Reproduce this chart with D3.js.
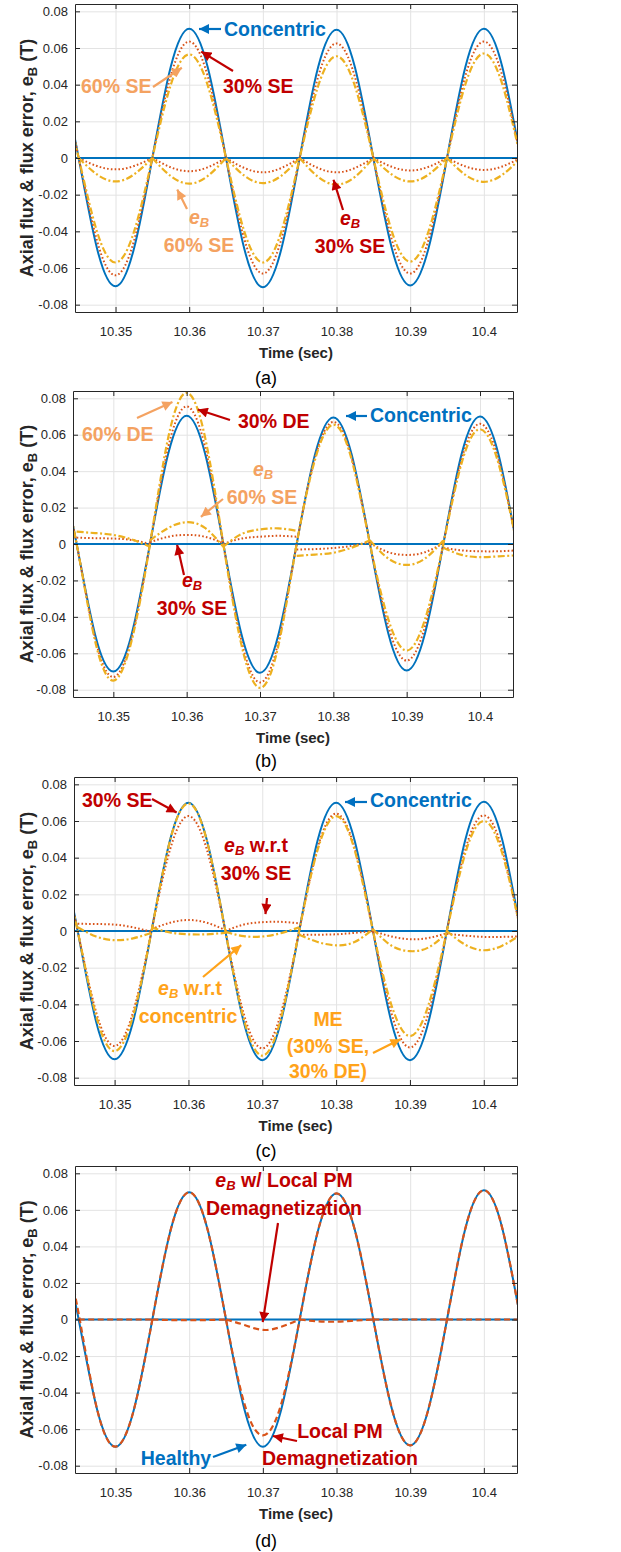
<!DOCTYPE html>
<html>
<head>
<meta charset="utf-8">
<script src="https://cdn.jsdelivr.net/npm/d3@7"></script>
<style>
  body { margin: 0; background: #fff; }
  text { font-family: "Liberation Sans", Arial, sans-serif; }
</style>
</head>
<body>
<div id="content"></div>
<script>
// Time grid (sec), sampled every 2.5 ms.
var time = [10.3425, 10.345, 10.3475, 10.35, 10.3525, 10.355, 10.3575, 10.36, 10.3625,
            10.365, 10.3675, 10.37, 10.3725, 10.375, 10.3775, 10.38, 10.3825, 10.385,
            10.3875, 10.39, 10.3925, 10.395, 10.3975, 10.40, 10.4025, 10.405, 10.4075];
var xTicks = [10.35, 10.36, 10.37, 10.38, 10.39, 10.4];
var xTickLabels = ['10.35', '10.36', '10.37', '10.38', '10.39', '10.4'];
var yTicks = [-0.08, -0.06, -0.04, -0.02, 0, 0.02, 0.04, 0.06, 0.08];
var yTickLabels = ['-0.08', '-0.06', '-0.04', '-0.02', '0', '0.02', '0.04', '0.06', '0.08'];

// Flux error of the reference machine (flat zero line).
var ebConc = [0, 0];

// (a) static eccentricity.
var concA = [0.0495, 0, -0.0495, -0.070, -0.0495, 0, 0.0498, 0.0705, 0.0498, 0, -0.0498, -0.0705, -0.0498, 0,
             0.0495, 0.070, 0.0495, 0, -0.0491, -0.0695, -0.0491, 0, 0.0498, 0.0705, 0.0498, 0, -0.0495];
var se30A = [0.0449, 0, -0.0453, -0.064, -0.0453, 0, 0.0449, 0.0635, 0.0449, 0, -0.0445, -0.063, -0.0445, 0,
             0.0442, 0.0625, 0.0442, 0, -0.0445, -0.063, -0.0445, 0, 0.0449, 0.0635, 0.0449, 0, -0.0445];
var se60A = [0.0399, 0, -0.0403, -0.057, -0.0403, 0, 0.0399, 0.0565, 0.0399, 0, -0.0403, -0.057, -0.0403, 0,
             0.0392, 0.0555, 0.0392, 0, -0.0399, -0.0565, -0.0399, 0, 0.0403, 0.057, 0.0403, 0, -0.0403];
// flux error, one arc per half cycle (10.345 -> 10.405)
var ebA30 = [[0, -0.0044, -0.0062, -0.0044, 0], [0, -0.0051, -0.0072, -0.0051, 0], [0, -0.0055, -0.0078, -0.0055, 0],
             [0, -0.0055, -0.0078, -0.0055, 0], [0, -0.0048, -0.0068, -0.0048, 0], [0, -0.0046, -0.0065, -0.0046, 0]];
var ebA60 = [[0, -0.009, -0.0128, -0.009, 0], [0, -0.0099, -0.014, -0.0099, 0], [0, -0.0097, -0.0137, -0.0097, 0],
             [0, -0.0103, -0.0145, -0.0103, 0], [0, -0.009, -0.0128, -0.009, 0], [0, -0.0092, -0.013, -0.0092, 0]];

// (b) dynamic eccentricity.
var concB = [0.0495, 0, -0.0495, -0.070, -0.0495, 0, 0.0498, 0.0704, 0.0498, 0, -0.050, -0.0707, -0.050, 0,
             0.0491, 0.0695, 0.0491, 0, -0.0491, -0.0695, -0.0491, 0, 0.0495, 0.070, 0.0495, 0, -0.0495];
var de30B = [0.0467, 0, -0.0516, -0.073, -0.0516, 0, 0.0534, 0.0755, 0.0534, 0, -0.0537, -0.076, -0.0537, 0,
             0.0474, 0.067, 0.0474, 0, -0.0453, -0.064, -0.0453, 0, 0.0467, 0.066, 0.0467, 0, -0.0516];
var de60B = [0.0445, 0, -0.053, -0.075, -0.053, 0, 0.0587, 0.083, 0.0587, 0, -0.0559, -0.079, -0.0559, 0,
             0.0463, 0.0655, 0.0463, 0, -0.0414, -0.0585, -0.0414, 0, 0.0445, 0.063, 0.0445, 0, -0.053];
var ebB30 = [[0.0035, 0.0032, 0.003, 0.0022, 0], [0.001, 0.004, 0.005, 0.004, 0.0005], [0, 0.003, 0.004, 0.0045, 0.004],
             [-0.003, -0.0028, -0.0022, -0.001, 0.001], [0.0005, -0.0045, -0.006, -0.0045, 0.0005], [-0.002, -0.0035, -0.004, -0.004, -0.0035]];
var ebB60 = [[0.0068, 0.006, 0.005, 0.0025, -0.0015], [0.002, 0.0088, 0.012, 0.0088, -0.0015], [-0.0015, 0.0055, 0.008, 0.0086, 0.0072],
             [-0.0065, -0.0058, -0.0048, -0.002, 0.002], [0.002, -0.008, -0.0115, -0.008, 0.002], [-0.002, -0.006, -0.0072, -0.0068, -0.0062]];

// (c) mixed eccentricity.
var concC = [0.0495, 0, -0.0495, -0.070, -0.0495, 0, 0.0495, 0.070, 0.0495, 0, -0.0498, -0.0705, -0.0498, 0,
             0.0495, 0.070, 0.0495, 0, -0.0498, -0.0705, -0.0498, 0, 0.0498, 0.0705, 0.0498, 0, -0.0495];
var se30C = [0.0445, 0, -0.0443, -0.0627, -0.0443, 0, 0.0443, 0.0627, 0.0443, 0, -0.0453, -0.064, -0.0453, 0,
             0.0453, 0.064, 0.0453, 0, -0.0449, -0.0635, -0.0449, 0, 0.0445, 0.063, 0.0445, 0, -0.0443];
var meC = [0.0424, 0, -0.0463, -0.0655, -0.0463, 0, 0.0492, 0.0696, 0.0492, 0, -0.0481, -0.068, -0.0481, 0,
           0.0443, 0.0627, 0.0443, 0, -0.0405, -0.0573, -0.0405, 0, 0.0424, 0.060, 0.0424, 0, -0.0463];
var ebC30 = [[0.004, 0.0038, 0.0035, 0.002, -0.0005], [0.001, 0.0045, 0.006, 0.0045, 0.0005], [0, 0.0035, 0.0048, 0.005, 0.0042],
             [-0.002, -0.002, -0.0018, -0.001, 0], [0, -0.003, -0.0045, -0.0038, -0.0012], [-0.0015, -0.0025, -0.0032, -0.0032, -0.003]];
var ebCconc = [[0.002, -0.003, -0.005, -0.004, -0.001], [0.002, -0.0008, -0.0018, -0.0018, -0.001], [-0.0005, -0.0028, -0.003, -0.0012, 0.002],
               [-0.002, -0.006, -0.0078, -0.006, 0.001], [0.001, -0.008, -0.011, -0.009, -0.001], [0, -0.0075, -0.0105, -0.008, -0.002]];

// (d) local PM demagnetization.
var healthyD = [0.0492, 0, -0.0492, -0.0696, -0.0492, 0, 0.0492, 0.0696, 0.0492, 0, -0.0492, -0.0696, -0.0492, 0,
                0.0488, 0.069, 0.0488, 0, -0.0487, -0.0689, -0.0487, 0, 0.05, 0.0707, 0.05, 0, -0.0492];
var demagD = [0.052, 0.003, -0.0492, -0.0696, -0.0492, 0, 0.0492, 0.0696, 0.0492, 0, -0.0462, -0.0634, -0.0462, 0,
              0.0488, 0.069, 0.0488, 0, -0.0487, -0.0689, -0.0487, 0, 0.05, 0.0707, 0.05, 0, -0.0492];
var ebD = [[0, 0, 0, 0, 0], [0, -0.0003, -0.0004, -0.0003, 0], [0, -0.003, -0.0057, -0.004, 0],
           [0, -0.001, -0.0012, -0.0006, 0], [0, 0, 0, 0, 0], [0, 0, 0, 0, 0]];

// Colours.
var C_BLUE = '#0072BD', C_RED = '#D95319', C_YEL = '#EDB120';
var T_BLUE = '#0070C0', T_DRED = '#C00000', T_LORG = '#F4A261', T_ORG = '#FFA31A';

var styles = {
  solid:   {w: 2,   dash: null},
  dot:     {w: 2,   dash: '1.6 2.2'},
  dashdot: {w: 2.2, dash: '7 2.5 2 2.5'},
  dash:    {w: 2.2, dash: '6 3.5'}
};

var panels = [
  {box: {left: 75, right: 517, top: 4, bottom: 312}, caption: '(a)', capY: 384,
   series: [
     {values: concA, color: C_BLUE, style: 'solid'},
     {ends: ebConc, color: C_BLUE, style: 'solid'},
     {values: se30A, color: C_RED, style: 'dot'},
     {arcs: ebA30, color: C_RED, style: 'dot'},
     {values: se60A, color: C_YEL, style: 'dashdot'},
     {arcs: ebA60, color: C_YEL, style: 'dashdot'}
   ],
   notes: [
     {color: T_BLUE, lines: [{s: 'Concentric', x: 149, y: 32}], arrow: [[146, 25], [119, 25]]},
     {color: T_DRED, lines: [{s: '30% SE', x: 148, y: 89}], arrow: [[158, 67], [122, 45]]},
     {color: T_LORG, lines: [{s: '60% SE', x: 6, y: 89}], arrow: [[78, 83], [111, 61]]},
     {color: T_LORG, a: 'middle', lines: [{s: 'e_B', x: 124, y: 220}, {s: '60% SE', x: 124, y: 248}], arrow: [[112, 205], [100, 181]]},
     {color: T_DRED, a: 'middle', lines: [{s: 'e_B', x: 275, y: 221}, {s: '30% SE', x: 275, y: 249}], arrow: [[268, 206], [257, 171]]}
   ]},
  {box: {left: 73, right: 513, top: 391, bottom: 697}, caption: '(b)', capY: 767,
   series: [
     {values: concB, color: C_BLUE, style: 'solid'},
     {ends: ebConc, color: C_BLUE, style: 'solid'},
     {values: de30B, color: C_RED, style: 'dot'},
     {arcs: ebB30, color: C_RED, style: 'dot'},
     {values: de60B, color: C_YEL, style: 'dashdot'},
     {arcs: ebB60, color: C_YEL, style: 'dashdot'}
   ],
   notes: [
     {color: T_LORG, lines: [{s: '60% DE', x: 9, y: 50}], arrow: [[64, 27], [104, 9]]},
     {color: T_DRED, lines: [{s: '30% DE', x: 165, y: 37}], arrow: [[157, 29], [120, 17]]},
     {color: T_BLUE, lines: [{s: 'Concentric', x: 297, y: 31}], arrow: [[294, 25], [268, 25]]},
     {color: T_LORG, a: 'middle', lines: [{s: 'e_B', x: 190, y: 85}, {s: '60% SE', x: 189, y: 113}], arrow: [[150, 108], [124, 129]]},
     {color: T_DRED, a: 'middle', lines: [{s: 'e_B', x: 119, y: 196}, {s: '30% SE', x: 119, y: 224}], arrow: [[111, 184], [103, 149]]}
   ]},
  {box: {left: 74, right: 517, top: 777, bottom: 1085}, caption: '(c)', capY: 1157,
   series: [
     {values: concC, color: C_BLUE, style: 'solid'},
     {ends: ebConc, color: C_BLUE, style: 'solid'},
     {values: se30C, color: C_RED, style: 'dot'},
     {arcs: ebC30, color: C_RED, style: 'dot'},
     {values: meC, color: C_YEL, style: 'dashdot'},
     {arcs: ebCconc, color: C_YEL, style: 'dashdot'}
   ],
   notes: [
     {color: T_DRED, lines: [{s: '30% SE', x: 8, y: 30}], arrow: [[78, 22], [107, 38]]},
     {color: T_BLUE, lines: [{s: 'Concentric', x: 296, y: 30}], arrow: [[293, 25], [266, 25]]},
     {color: T_DRED, a: 'middle', lines: [{s: 'e_B w.r.t', x: 182, y: 75}, {s: '30% SE', x: 182, y: 103}], arrow: [[193, 121], [191, 142]]},
     {color: T_ORG, a: 'middle', lines: [{s: 'e_B w.r.t', x: 116, y: 218}, {s: 'concentric', x: 114, y: 246}], arrow: [[129, 200], [171, 165]]},
     {color: T_ORG, a: 'middle', lines: [{s: 'ME', x: 254, y: 249}, {s: '(30% SE,', x: 254, y: 276}, {s: '30% DE)', x: 254, y: 301}], arrow: [[299, 276], [331, 260]]}
   ]},
  {box: {left: 75, right: 517, top: 1166, bottom: 1473}, caption: '(d)', capY: 1547,
   series: [
     {values: healthyD, color: C_BLUE, style: 'solid'},
     {ends: ebConc, color: C_BLUE, style: 'solid'},
     {values: demagD, color: C_RED, style: 'dash'},
     {arcs: ebD, color: C_RED, style: 'dash'}
   ],
   notes: [
     {color: T_DRED, a: 'middle', lines: [{s: 'e_B w/ Local PM', x: 209, y: 21}, {s: 'Demagnetization', x: 209, y: 49}], arrow: [[203, 57], [187, 161]]},
     {color: T_DRED, a: 'middle', lines: [{s: 'Local PM', x: 265, y: 272}, {s: 'Demagnetization', x: 265, y: 299}], arrow: [[222, 275], [193, 269]]},
     {color: T_BLUE, a: 'middle', lines: [{s: 'Healthy', x: 101, y: 299}], arrow: [[138, 291], [176, 277]]}
   ]}
];

var NOTE_SIZE = 19.5;

var svg = d3.select('#content')
            .append('svg')
            .attr('width', 621)
            .attr('height', 1552);
var defs = svg.append('defs');

// One arrow head per annotation colour.
var markerId = {};
[T_BLUE, T_DRED, T_LORG, T_ORG].forEach(function(c, i) {
  markerId[c] = 'arrow' + i;
  defs.append('marker')
      .attr('id', 'arrow' + i)
      .attr('viewBox', '0 0 10 10')
      .attr('markerUnits', 'userSpaceOnUse')
      .attr('markerWidth', 11).attr('markerHeight', 10)
      .attr('refX', 10).attr('refY', 5)
      .attr('orient', 'auto')
      .append('path').attr('d', 'M0,0L10,5L0,10Z').attr('fill', c);
});

function addNoteLine(g, ln, anchor, color) {
  var t = g.append('text')
           .attr('x', ln.x).attr('y', ln.y)
           .attr('text-anchor', anchor)
           .attr('fill', color)
           .attr('font-size', NOTE_SIZE)
           .attr('font-weight', 'bold');
  ln.s.split('e_B').forEach(function(part, i) {
    if (i > 0) {
      t.append('tspan').attr('font-style', 'italic').text('e');
      t.append('tspan').attr('font-style', 'italic').attr('font-size', 13).attr('dy', 3).text('B');
      if (part) t.append('tspan').attr('dy', -3).text(part);
    } else if (part) {
      t.append('tspan').text(part);
    }
  });
}

panels.forEach(function(p, pi) {
  var w = p.box.right - p.box.left;
  var h = p.box.bottom - p.box.top;

  var x = d3.scaleLinear().domain([10.3445, 10.4045]).range([0, w]);
  var y = d3.scaleLinear().domain([-0.084, 0.084]).range([h, 0]);

  var g = svg.append('g')
             .attr('transform', 'translate(' + p.box.left + ',' + p.box.top + ')');

  // Grid.
  var gx = g.append('g').attr('transform', 'translate(0,' + h + ')')
            .call(d3.axisBottom(x).tickValues(xTicks).tickSize(-h).tickFormat(''));
  var gy = g.append('g')
            .call(d3.axisLeft(y).tickValues(yTicks).tickSize(-w).tickFormat(''));
  [gx, gy].forEach(function(a) {
    a.select('.domain').remove();
    a.selectAll('line').attr('stroke', '#e3e3e3').attr('stroke-width', 1);
  });

  // Curves.
  defs.append('clipPath').attr('id', 'clip' + pi)
      .append('rect').attr('width', w).attr('height', h);
  var plot = g.append('g').attr('clip-path', 'url(#clip' + pi + ')');
  var line = d3.line()
               .x(function(d) { return x(d[0]); })
               .y(function(d) { return y(d[1]); })
               .curve(d3.curveNatural);

  p.series.forEach(function(s) {
    var d;
    if (s.values) {
      d = line(s.values.map(function(v, i) { return [time[i], v]; }));
    } else if (s.ends) {
      d = line([[time[0], s.ends[0]], [time[time.length - 1], s.ends[1]]]);
    } else {
      d = s.arcs.map(function(arc, j) {
        return line(arc.map(function(v, k) { return [time[1 + 4 * j + k], v]; }));
      }).join('');
    }
    var st = styles[s.style];
    plot.append('path')
        .attr('d', d)
        .attr('fill', 'none')
        .attr('stroke', s.color)
        .attr('stroke-width', st.w)
        .attr('stroke-dasharray', st.dash);
  });

  // Axes (box with inward ticks).
  var axes = [
    g.append('g').attr('transform', 'translate(0,' + h + ')')
     .call(d3.axisBottom(x).tickValues(xTicks).tickSizeInner(-5).tickSizeOuter(0).tickPadding(15)
             .tickFormat(function(d, i) { return xTickLabels[i]; })),
    g.append('g')
     .call(d3.axisLeft(y).tickValues(yTicks).tickSizeInner(-5).tickSizeOuter(0).tickPadding(7)
             .tickFormat(function(d, i) { return yTickLabels[i]; })),
    g.append('g')
     .call(d3.axisTop(x).tickValues(xTicks).tickSizeInner(-5).tickSizeOuter(0).tickFormat('')),
    g.append('g').attr('transform', 'translate(' + w + ',0)')
     .call(d3.axisRight(y).tickValues(yTicks).tickSizeInner(-5).tickSizeOuter(0).tickFormat(''))
  ];
  axes.forEach(function(a) {
    a.attr('font-family', null).attr('font-size', 13);
    a.select('.domain').attr('stroke', '#262626');
    a.selectAll('line').attr('stroke', '#262626');
    a.selectAll('text').attr('fill', '#262626');
  });

  // Axis titles.
  g.append('text')
   .attr('x', w / 2).attr('y', h + 46)
   .attr('text-anchor', 'middle')
   .attr('font-size', 15).attr('font-weight', 'bold').attr('fill', '#262626')
   .text('Time (sec)');

  var yl = g.append('text')
            .attr('transform', 'translate(' + (33 - p.box.left) + ',' + (h / 2) + ') rotate(-90)')
            .attr('text-anchor', 'middle')
            .attr('font-size', 18).attr('font-weight', 'bold').attr('fill', '#262626');
  yl.append('tspan').text('Axial flux & flux error, e');
  yl.append('tspan').attr('font-size', 13).attr('dy', 4).text('B');
  yl.append('tspan').attr('dy', -4).text(' (T)');

  // Annotations: arrow shortened a little so the head covers the line end.
  p.notes.forEach(function(n) {
    var a = n.arrow;
    var dx = a[1][0] - a[0][0], dy = a[1][1] - a[0][1];
    var len = Math.sqrt(dx * dx + dy * dy);
    g.append('line')
     .attr('x1', a[0][0]).attr('y1', a[0][1])
     .attr('x2', a[1][0] - dx / len * 5).attr('y2', a[1][1] - dy / len * 5)
     .attr('stroke', n.color).attr('stroke-width', 2.2)
     .attr('marker-end', 'url(#' + markerId[n.color] + ')');
    n.lines.forEach(function(ln) { addNoteLine(g, ln, n.a || 'start', n.color); });
  });

  // Caption.
  svg.append('text')
     .attr('x', 266).attr('y', p.capY)
     .attr('text-anchor', 'middle')
     .attr('font-size', 18)
     .attr('font-family', '"Liberation Serif", "Times New Roman", serif')
     .text(p.caption);
});
</script>
</body>
</html>
